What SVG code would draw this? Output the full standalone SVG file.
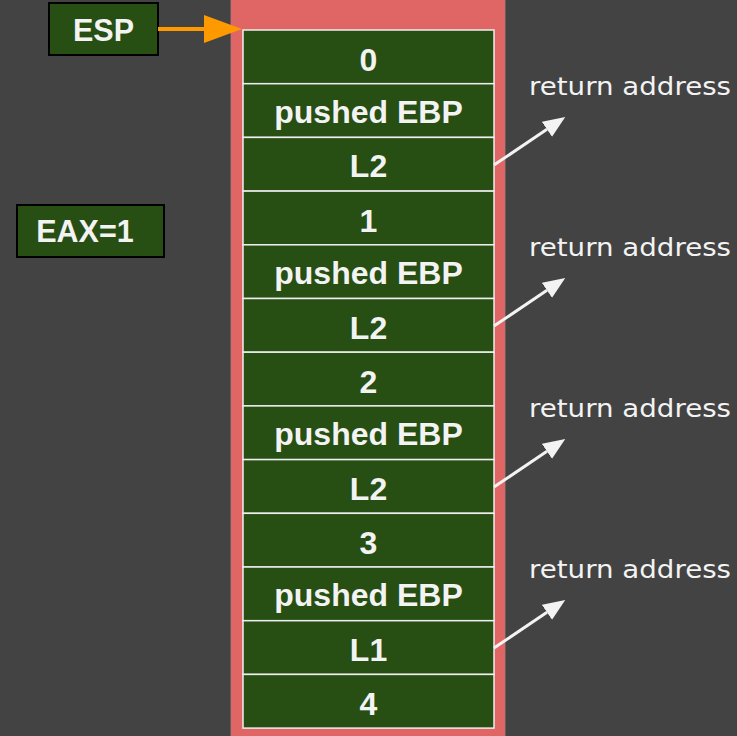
<svg xmlns="http://www.w3.org/2000/svg" width="737" height="736" viewBox="0 0 737 736">
<style>
.bg{fill:#434343}
.col{fill:#e06666;stroke:#5f5f5f;stroke-width:1}
.cell{fill:#274e13;stroke:#eeeeee;stroke-width:1.5}
.reg{fill:#274e13;stroke:#000000;stroke-width:2}
.t{font-family:"Liberation Sans",Arial,sans-serif;font-weight:bold;font-size:32px;fill:#f3f3f3;text-anchor:middle}
.r{font-size:30.5px}
.ra{font-family:"DejaVu Sans","Liberation Sans",sans-serif;font-size:24px;fill:#f3f3f3}
.wl{stroke:#f3f3f3;stroke-width:3;fill:none}
.ol{stroke:#ff9900;stroke-width:4;fill:none}
</style>
<defs>
<marker id="wh" markerUnits="userSpaceOnUse" markerWidth="24" markerHeight="20" refX="0" refY="9" orient="auto" viewBox="0 0 24 20">
<path d="M0,0 L22,9 L0,18 Z" fill="#f3f3f3"/>
</marker>
<marker id="oh" markerUnits="userSpaceOnUse" markerWidth="40" markerHeight="30" refX="0" refY="14" orient="auto" viewBox="0 0 40 30">
<path d="M0,0 L38,14 L0,28 Z" fill="#ff9900"/>
</marker>
</defs>
<rect class="bg" x="0" y="0" width="737" height="736"/>
<rect class="col" x="230.5" y="-2" width="275" height="740"/>
<g id="stack">
<g id="c0"><rect class="cell" x="243" y="30" width="251" height="53.7"/><text class="t" x="368.5" y="70.5">0</text></g>
<g id="c1"><rect class="cell" x="243" y="83.7" width="251" height="53.7"/><text class="t" x="368.5" y="122.7">pushed EBP</text></g>
<g id="c2"><rect class="cell" x="243" y="137.4" width="251" height="53.7"/><text class="t" x="368.5" y="177.4">L2</text></g>
<g id="c3"><rect class="cell" x="243" y="191.1" width="251" height="53.7"/><text class="t" x="368.5" y="231.6">1</text></g>
<g id="c4"><rect class="cell" x="243" y="244.8" width="251" height="53.7"/><text class="t" x="368.5" y="283.8">pushed EBP</text></g>
<g id="c5"><rect class="cell" x="243" y="298.5" width="251" height="53.7"/><text class="t" x="368.5" y="338.5">L2</text></g>
<g id="c6"><rect class="cell" x="243" y="352.2" width="251" height="53.7"/><text class="t" x="368.5" y="392.7">2</text></g>
<g id="c7"><rect class="cell" x="243" y="405.9" width="251" height="53.7"/><text class="t" x="368.5" y="444.9">pushed EBP</text></g>
<g id="c8"><rect class="cell" x="243" y="459.6" width="251" height="53.7"/><text class="t" x="368.5" y="499.6">L2</text></g>
<g id="c9"><rect class="cell" x="243" y="513.3" width="251" height="53.7"/><text class="t" x="368.5" y="553.8">3</text></g>
<g id="c10"><rect class="cell" x="243" y="567" width="251" height="53.7"/><text class="t" x="368.5" y="606">pushed EBP</text></g>
<g id="c11"><rect class="cell" x="243" y="620.7" width="251" height="53.7"/><text class="t" x="368.5" y="660.7">L1</text></g>
<g id="c12"><rect class="cell" x="243" y="674.4" width="251" height="53.7"/><text class="t" x="368.5" y="714.9">4</text></g>
</g>
<g id="esp"><rect class="reg" x="49" y="3" width="109" height="52"/><text class="t r" x="103.5" y="41">ESP</text></g>
<g id="eax"><rect class="reg" x="17" y="205" width="147" height="52"/><text class="t r" x="85" y="242">EAX=1</text></g>
<g id="labels">
<text class="ra" x="529" y="95" textLength="202" lengthAdjust="spacingAndGlyphs">return address</text>
<text class="ra" x="529" y="256" textLength="202" lengthAdjust="spacingAndGlyphs">return address</text>
<text class="ra" x="529" y="417" textLength="202" lengthAdjust="spacingAndGlyphs">return address</text>
<text class="ra" x="529" y="578" textLength="202" lengthAdjust="spacingAndGlyphs">return address</text>
</g>
<g id="connectors">
<line class="ol" x1="158" y1="29" x2="204" y2="29" marker-end="url(#oh)"/>
<line class="wl" x1="494" y1="165" x2="547" y2="129.3" marker-end="url(#wh)"/>
<line class="wl" x1="494" y1="326" x2="547" y2="290.3" marker-end="url(#wh)"/>
<line class="wl" x1="494" y1="487" x2="547" y2="451.3" marker-end="url(#wh)"/>
<line class="wl" x1="494" y1="648" x2="547" y2="612.3" marker-end="url(#wh)"/>
</g>
</svg>
